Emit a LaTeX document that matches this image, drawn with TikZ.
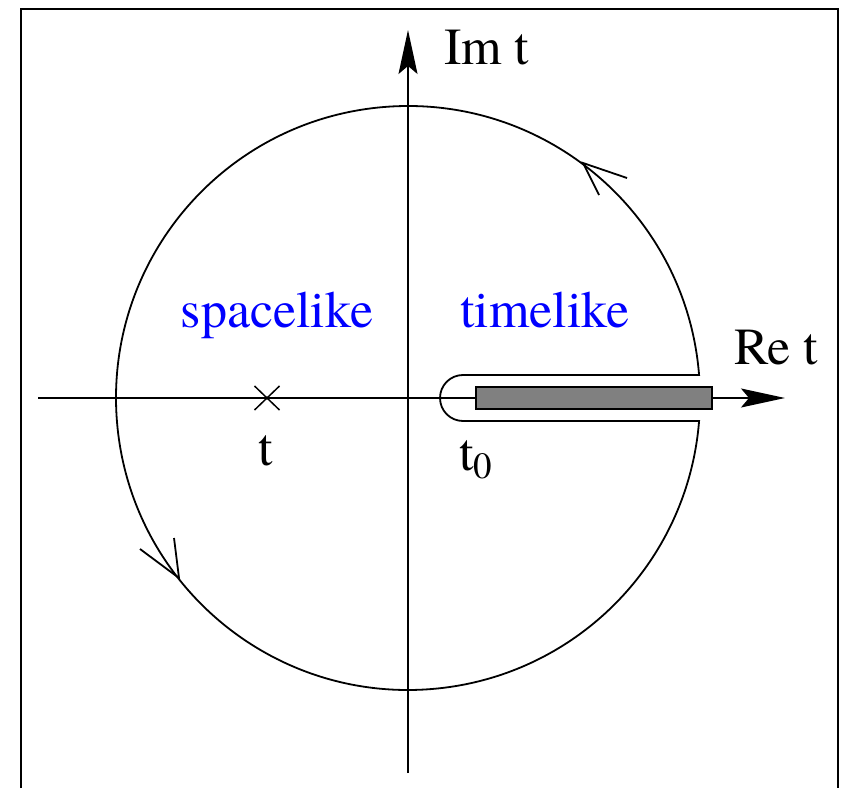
\documentclass[tikz,border=0pt]{standalone}
\usepackage{fontspec}
\setmainfont{TeX Gyre Termes}
\usetikzlibrary{arrows.meta}
\definecolor{cutgray}{RGB}{128,128,128}
\tikzset{
  lbl/.style={font=\fontsize{52}{60}\selectfont, inner sep=0pt, anchor=base},
  region/.style={lbl, text=blue},
  axis/.style={line width=1.5pt, -{Stealth[length=44pt,width=19pt,inset=8pt]}},
  contour/.style={line width=1.8pt},
  barb/.style={line width=1.8pt, line join=miter},
}
\begin{document}
\begin{tikzpicture}[x=1pt,y=1pt]
\useasboundingbox (0,0) rectangle (845,788);
% frame
\draw[line width=2.5pt] (21,0) -- (21,779) -- (838,779) -- (838,0);
% origin
\coordinate (O) at (408,390);
% axes
\coordinate (xs) at (38,390);
\coordinate (xe) at (785,390);
\coordinate (ys) at (408,15);
\coordinate (ye) at (408,758);
\draw[axis] (xs) -- (xe);
\draw[axis] (ys) -- (ye);
% branch cut
\node[draw, line width=2pt, fill=cutgray, minimum width=236pt, minimum height=22pt, inner sep=0pt] (cut) at (594,390) {};
% contour
\coordinate (k1) at (463,367);
\coordinate (k2) at (463,413);
\draw[contour] (O) ++(4.52:292pt) arc[start angle=4.52, end angle=355.48, radius=292pt]
   -- (k1) arc[start angle=270, end angle=90, radius=23pt] -- cycle;
% direction marks on the circle
\coordinate (tipA) at (583,625);
\coordinate (a1) at (627,610);
\coordinate (a2) at (599,593);
\draw[barb] (a1) -- (tipA) -- (a2);
\coordinate (tipB) at (179,210);
\coordinate (b1) at (140,239);
\coordinate (b2) at (174,250);
\draw[barb] (b1) -- (tipB) -- (b2);
% cross at t
\coordinate (pt) at (267,390);
\draw[line width=1.5pt] (pt) ++(-12.5,-12) -- ++(25,24);
\draw[line width=1.5pt] (pt) ++(-12.5,12) -- ++(25,-24);
% labels
\node[lbl] (tl) at (266,323) {t};
\node[lbl, anchor=base west] (t0) at (459,318) {t\raisebox{-8pt}{\fontsize{37}{40}\selectfont 0}};
\node[lbl, anchor=base west] (im) at (444,723) {Im t};
\node[lbl, anchor=base west] (re) at (734,423) {Re t};
\node[region] (sp) at (277,460) {spacelike};
\node[region] (tm) at (545,460) {timelike};
\end{tikzpicture}
\end{document}
